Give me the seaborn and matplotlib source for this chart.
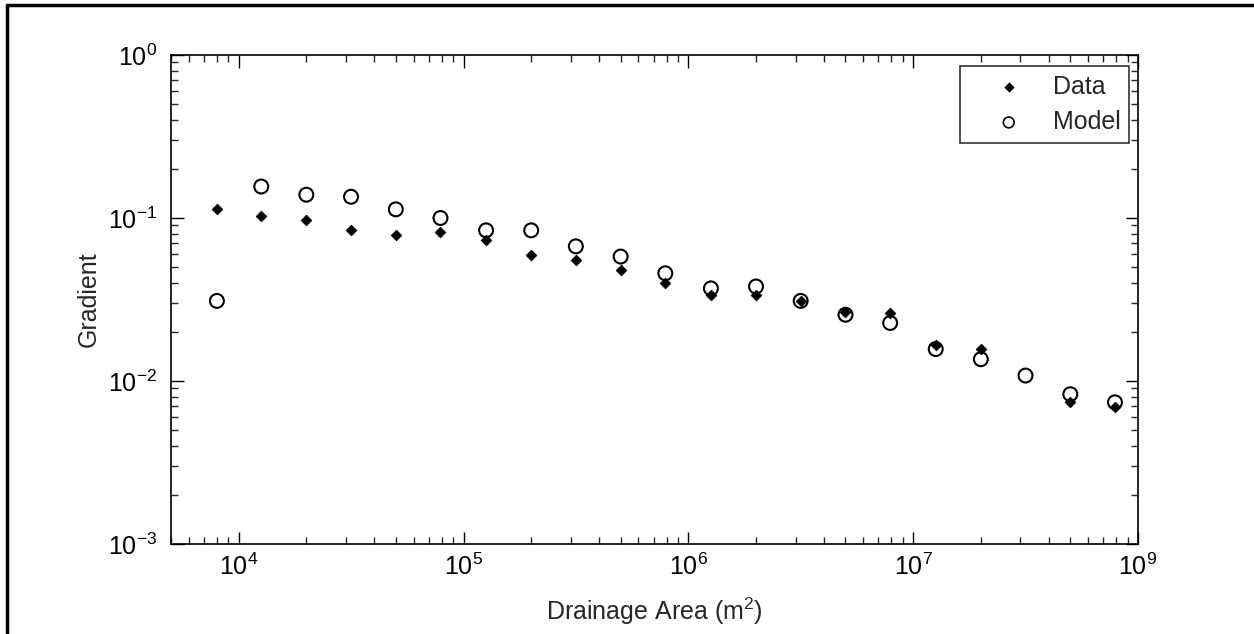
import numpy as np
import pandas as pd
import seaborn as sns
import matplotlib.pyplot as plt
from matplotlib.lines import Line2D
from matplotlib.ticker import LogLocator, NullFormatter, FixedLocator

# drainage area bins (m^2)
area = [8e3, 1.26e4, 2e4, 3.16e4, 5e4, 7.9e4, 1.26e5, 2e5, 3.16e5, 5e5, 7.9e5,
        1.26e6, 2e6, 3.16e6, 5e6, 7.9e6, 1.26e7, 2e7, 3.16e7, 5e7, 7.9e7]
data_grad = [0.113, 0.103, 0.097, 0.084, 0.079, 0.082, 0.073, 0.059, 0.055, 0.048, 0.040,
             0.0336, 0.0337, 0.031, 0.0265, 0.026, 0.0166, 0.0157, np.nan, 0.0074, 0.0069]
model_grad = [0.031, 0.156, 0.139, 0.135, 0.113, 0.100, 0.084, 0.084, 0.067, 0.058, 0.0458,
              0.037, 0.038, 0.031, 0.0255, 0.0227, 0.0157, 0.0136, 0.0108, 0.0083, 0.0074]
xtick_vals = [1e4, 1e5, 1e6, 1e7, 1e8]
xtick_labels = ["$10^{4}$", "$10^{5}$", "$10^{6}$", "$10^{7}$", "$10^{9}$"]
ytick_vals = [1e-3, 1e-2, 1e-1, 1e0]
ytick_labels = ["$10^{-3}$", "$10^{-2}$", "$10^{-1}$", "$10^{0}$"]

df = pd.DataFrame({"area": area, "data": data_grad, "model": model_grad})

sns.set_style("ticks", {"xtick.direction": "in", "ytick.direction": "in"})
plt.rcParams['font.family'] = ['Liberation Sans', 'DejaVu Sans']
plt.rcParams['mathtext.fontset'] = 'custom'
plt.rcParams['mathtext.rm'] = 'Liberation Sans'
plt.rcParams['mathtext.it'] = 'Liberation Sans'

FS = 18

fig = plt.figure(figsize=(12.54, 6.34), dpi=100)
ax = fig.add_axes([171/1254, 1-544/634, (1138-171)/1254, (544-55)/634])

sns.scatterplot(data=df.dropna(subset=["data"]), x="area", y="data", ax=ax,
                marker="D", s=30, color="black", edgecolor="black", linewidth=0.5,
                label="Data", zorder=3)
sns.scatterplot(data=df, x="area", y="model", ax=ax,
                marker="o", s=100, facecolor="none", edgecolor="black", linewidth=1.5,
                label="Model", zorder=4)

ax.set_xscale("log")
ax.set_yscale("log")
ax.set_xlim(5e3, 1e8)
ax.set_ylim(1e-3, 1e0)

ax.xaxis.set_major_locator(FixedLocator(xtick_vals))
ax.set_xticklabels(xtick_labels)
ax.yaxis.set_major_locator(FixedLocator(ytick_vals))
ax.set_yticklabels(ytick_labels)
ax.xaxis.set_minor_locator(LogLocator(base=10, subs=np.arange(2, 10), numticks=20))
ax.yaxis.set_minor_locator(LogLocator(base=10, subs=np.arange(2, 10), numticks=20))
ax.xaxis.set_minor_formatter(NullFormatter())
ax.yaxis.set_minor_formatter(NullFormatter())

ax.tick_params(which="major", length=9, width=1, direction="in",
               top=True, right=True, labelsize=FS, colors="black")
ax.tick_params(axis="x", which="major", pad=7)
ax.tick_params(axis="y", which="major", pad=10)
ax.tick_params(which="minor", length=5, width=1, direction="in", top=True, right=True)
for s in ax.spines.values():
    s.set_linewidth(1.2)
    s.set_color("black")

ax.set_xlabel("Drainage Area (m$^2$)", fontsize=FS, labelpad=11)
ax.set_ylabel("Gradient", fontsize=FS, labelpad=5)

leg = ax.legend(loc="upper right", bbox_to_anchor=(0.9907, 0.9775), borderaxespad=0,
                fontsize=FS, frameon=True, fancybox=False, edgecolor="black",
                handlelength=3.2, handletextpad=0.15, borderpad=0.35, labelspacing=0.45)
leg.get_frame().set_linewidth(1.2)
leg.legend_handles[0].set_sizes([22])
leg.legend_handles[1].set_sizes([60])
leg.legend_handles[1].set_linewidth(1.2)

# figure border (top and left)
fig.add_artist(Line2D([7/1254, 7/1254], [0, 1-5/634], color="black", lw=2.5,
                      transform=fig.transFigure))
fig.add_artist(Line2D([7/1254, 1], [1-5/634, 1-5/634], color="black", lw=2.5,
                      transform=fig.transFigure))

fig.savefig("out.png", dpi=100)
